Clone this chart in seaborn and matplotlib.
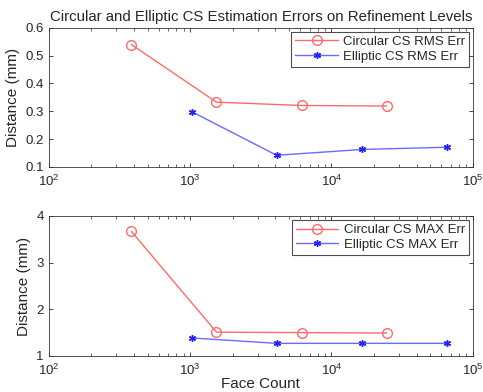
import pandas as pd
import seaborn as sns
import matplotlib.pyplot as plt
from matplotlib.ticker import LogLocator, NullFormatter

# Dados
faces_circ = [384, 1536, 6144, 24576]
faces_ell = [1024, 4096, 16384, 65536]
rms_circ = [0.540, 0.333, 0.321, 0.319]
rms_ell = [0.299, 0.142, 0.163, 0.171]
max_circ = [3.67, 1.51, 1.50, 1.49]
max_ell = [1.385, 1.27, 1.27, 1.27]

sns.set_style("ticks")
plt.rcParams['font.family'] = ['Liberation Sans', 'DejaVu Sans']

fig = plt.figure(figsize=(4.83, 3.92), dpi=100)
ax1 = fig.add_axes([0.101, 0.574, 0.878, 0.355])
ax2 = fig.add_axes([0.101, 0.092, 0.878, 0.357])

red = '#ff6a6a'
blue = '#6a6aff'


def painel(ax, yc, ye, lc, le, ylim, yticks):
    dc = pd.DataFrame({'x': faces_circ, 'y': yc})
    de = pd.DataFrame({'x': faces_ell, 'y': ye})
    sns.lineplot(data=dc, x='x', y='y', ax=ax, color=red, marker='o',
                 markersize=7, markerfacecolor='none', markeredgecolor=red,
                 markeredgewidth=1.0, linewidth=1.0, label=lc)
    sns.lineplot(data=de, x='x', y='y', ax=ax, color=blue, marker=(6, 2, 0),
                 markersize=5, markerfacecolor='#2020ff', markeredgecolor='#2020ff',
                 markeredgewidth=1.0, linewidth=1.0, label=le)
    ax.set_xscale('log')
    ax.set_xlim(1e2, 1e5)
    ax.set_ylim(*ylim)
    ax.set_yticks(yticks)
    ax.xaxis.set_minor_locator(LogLocator(base=10, subs=range(2, 10)))
    ax.xaxis.set_minor_formatter(NullFormatter())
    ax.tick_params(direction='in', top=True, right=True, labelsize=9.5,
                   length=3, width=0.6)
    ax.tick_params(axis='x', pad=5)
    ax.tick_params(which='minor', direction='in', top=True, length=2, width=0.5)
    for s in ax.spines.values():
        s.set_linewidth(0.6)
        s.set_color('#333333')
    ax.set_ylabel('Distance (mm)', fontsize=11)
    ax.set_xlabel('')
    leg = ax.legend(loc='upper right', fontsize=9.5, frameon=True, fancybox=False,
                    borderpad=0.3, labelspacing=0.2, handlelength=3.2,
                    handletextpad=0.4, borderaxespad=0.3)
    leg.get_frame().set_edgecolor('#222222')
    leg.get_frame().set_linewidth(0.8)


painel(ax1, rms_circ, rms_ell, 'Circular CS RMS Err', 'Elliptic CS RMS Err',
       (0.1, 0.6), [0.1, 0.2, 0.3, 0.4, 0.5, 0.6])
painel(ax2, max_circ, max_ell, 'Circular CS MAX Err', 'Elliptic CS MAX Err',
       (1, 4), [1, 2, 3, 4])

ax1.set_title('Circular and Elliptic CS Estimation Errors on Refinement Levels',
              fontsize=10.8, pad=5)
ax2.set_xlabel('Face Count', fontsize=11, labelpad=-1)

fig.savefig('out.png', dpi=100)
